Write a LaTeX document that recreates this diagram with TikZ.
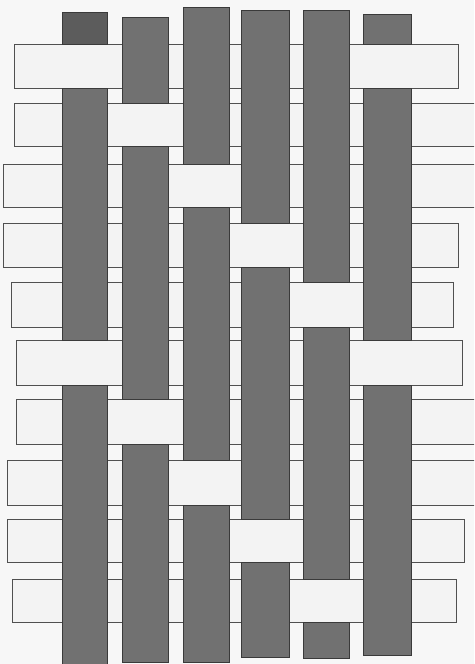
\documentclass[tikz,border=0pt]{standalone}
\definecolor{paper}{HTML}{F7F7F7}
\definecolor{weftfill}{HTML}{F3F3F3}
\definecolor{weftline}{HTML}{505050}
\definecolor{warpfill}{HTML}{717171}
\definecolor{warpdark}{HTML}{5C5C5C}
\definecolor{warpline}{HTML}{3A3A3A}
\tikzset{
  weft/.style={fill=weftfill, draw=weftline, line width=1pt},
  weftfillonly/.style={fill=weftfill},
  weftedge/.style={draw=weftline, line width=1pt},
  warp/.style={fill=warpfill, draw=warpline, line width=0.9pt},
  warpstub/.style={warp, fill=warpdark},
}
\begin{document}
\begin{tikzpicture}[x=1pt,y=1pt,yscale=-1]
\fill[paper] (0,0) rectangle (474,664);
\clip (0,0) rectangle (474,664);
% closed weft strips: x1, x2, y1, y2
\foreach \xa/\xb/\ya/\yb in {14/458/44/88, 3/458/223/267, 11/453/282/327, 16/462/340/385, 7/464/519/562, 12/456/579/622}
  \draw[weft] (\xa,\ya) rectangle (\xb,\yb);
% weft strips running off the right edge
\foreach \xa/\ya/\yb in {14/103/146, 3/164/207, 16/399/444, 7/460/505}{
  \fill[weftfillonly] (\xa,\ya) rectangle (480,\yb);
  \draw[weftedge] (480,\ya) -- (\xa,\ya) -- (\xa,\yb) -- (480,\yb);
}
% warp strips, split where a weft passes over
\draw[warpstub] (62,12) rectangle (107,44);
\foreach \xa/\xb/\ya/\yb in {
  62/107/88/340, 62/107/385/670,
  122/168/17/103, 122/168/146/399, 122/168/444/662,
  183/229/7/164, 183/229/207/460, 183/229/505/662,
  241/289/10/223, 241/289/267/519, 241/289/562/657,
  303/349/10/282, 303/349/327/579, 303/349/622/658,
  363/411/14/44, 363/411/88/340, 363/411/385/655}
  \draw[warp] (\xa,\ya) rectangle (\xb,\yb);
\end{tikzpicture}
\end{document}
